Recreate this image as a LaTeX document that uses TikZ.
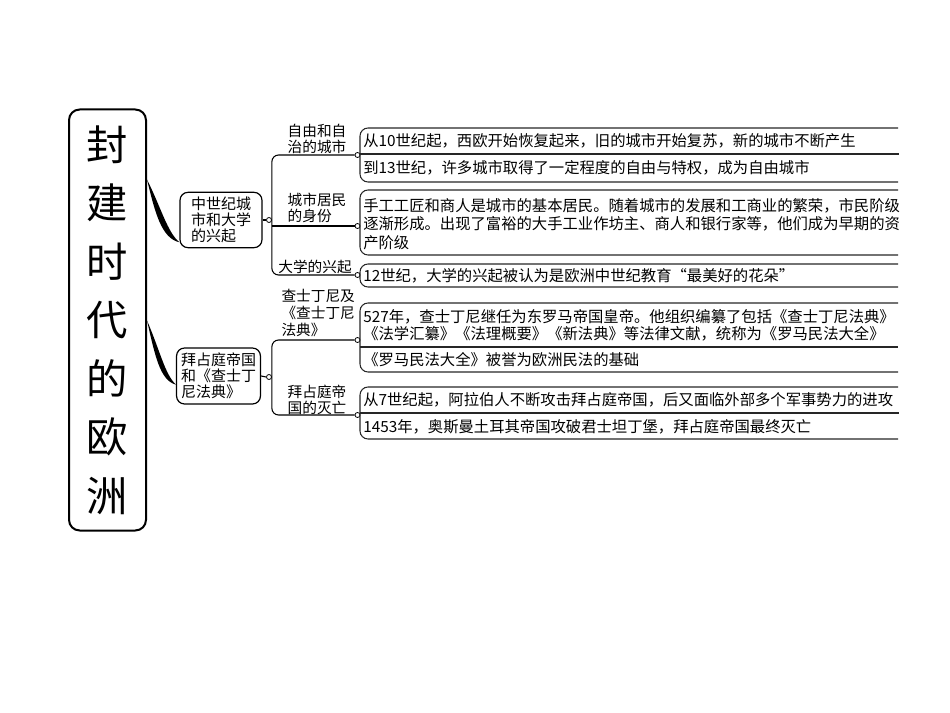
\documentclass[tikz,border=0pt]{standalone}
\usepackage{fontspec}
\setmainfont{Noto Sans CJK SC}
\usetikzlibrary{calc}

\begin{document}
\begin{tikzpicture}[x=0.75pt,y=-0.75pt,
    titlebox/.style={draw,line width=1.5pt,rounded corners=8pt,minimum width=57.75pt,minimum height=315.75pt,align=center,font=\fontsize{31}{43.9}\selectfont},
    topicbox/.style={draw,line width=0.9pt,rounded corners=6pt,align=left,font=\fontsize{11.25}{12.2}\selectfont},
    lbl/.style={align=left,inner sep=0pt,font=\fontsize{11}{12.4}\selectfont},
    cell/.style={anchor=west,align=left,inner sep=0pt,font=\fontsize{11.5}{13.9}\selectfont},
    dot/.style={draw,circle,fill=white,inner sep=0pt,minimum size=3.75pt,line width=0.6pt},
    panel/.style={draw=black!85,line width=0.8pt,rounded corners=6pt},
    branch/.style={line width=0.8pt,rounded corners=5pt}]
        \useasboundingbox (0,0) rectangle (950,713);

        % Title column
        \node[titlebox] (title) at (107.5,320) {封\\建\\时\\代\\的\\欧\\洲};

        % Two topics
        \node[topicbox,minimum width=61.5pt,minimum height=39pt] (city) at (221,220) {中世纪城\\市和大学\\的兴起};
        \node[topicbox,minimum width=62.25pt,minimum height=42pt] (byz) at (218.5,376) {拜占庭帝国\\和《查士丁\\尼法典》};

        % Brush strokes from title to topics
        \coordinate (s1) at ($(title.north east)+(0,71)$);
        \coordinate (e1) at ($(city.south west)+(0,-6)$);
        \fill (s1) .. controls +(8,33) and +(-18,-4) .. (e1) .. controls +(-12,-10) and +(14,28) .. (s1);
        \coordinate (s2) at ($(title.north east)+(0,212)$);
        \coordinate (e2) at ($(byz.south west)+(0,-20)$);
        \fill (s2) .. controls +(8,35) and +(-16,-4) .. (e2) .. controls +(-11,-10) and +(13,30) .. (s2);

        % Junction dots
        \node[dot] (o1) at (269,220) {};
        \node[dot] (o2) at (269,377) {};
        \node[dot] (d1) at (357.5,155) {};
        \node[dot] (d2) at (357.5,226) {};
        \node[dot] (d3) at (357.5,275) {};
        \node[dot] (d4) at (357.5,340) {};
        \node[dot] (d5) at (357.5,415) {};

        % Branches of the first topic
        \draw[line width=0.8pt] (city.east) -- (o1.west);
        \draw[branch] (d1.west) -| (o1.east) |- (d3.west);
        \draw[branch] (o1.east |- d2.west) -- (d2.west);
        \node[lbl] (free) at (317,139) {自由和自\\治的城市};
        \node[lbl] (burgher) at (317,208) {城市居民\\的身份};
        \node[lbl] (univ) at (315,267) {大学的兴起};

        % Branches of the second topic
        \draw[line width=0.8pt] (byz.east) -- (o2.west);
        \draw[branch] (d4.west) -| (o2.east) |- (d5.west);
        \node[lbl,text width=56.25pt] (code) at (319,313) {查士丁尼及\\《查士丁尼\\法典》};
        \node[lbl] (fall) at (317,400) {拜占庭帝\\国的灭亡};

        % Open panels on the right
        \draw[panel] (898,128) -- (360,128) -- (360,182) -- (898,182);
        \draw[panel] (360,154) -- (899,154);
        \draw[panel] (898,190) -- (360,190) -- (360,255) -- (898,255);
        \draw[panel] (898,264) -- (360,264) -- (360,287) -- (898,287);
        \draw[panel] (898,303) -- (360,303) -- (360,372) -- (898,372);
        \draw[panel] (360,347) -- (898,347);
        \draw[panel] (898,387) -- (360,387) -- (360,439) -- (898,439);
        \draw[panel] (360,413) -- (899,413);

        % Panel texts
        \node[cell] (t1a) at (363,141) {从10世纪起，西欧开始恢复起来，旧的城市开始复苏，新的城市不断产生};
        \node[cell] (t1b) at (363,168) {到13世纪，许多城市取得了一定程度的自由与特权，成为自由城市};
        \node[cell] (t2) at (363,224) {手工工匠和商人是城市的基本居民。随着城市的发展和工商业的繁荣，市民阶级\\逐渐形成。出现了富裕的大手工业作坊主、商人和银行家等，他们成为早期的资\\产阶级};
        \node[cell] (t3) at (363,276) {12世纪，大学的兴起被认为是欧洲中世纪教育“最美好的花朵”};
        \node[cell,font=\fontsize{11.5}{12.75}\selectfont] (t4a) at (363,325.5) {527年，查士丁尼继任为东罗马帝国皇帝。他组织编纂了包括《查士丁尼法典》\\《法学汇纂》《法理概要》《新法典》等法律文献，统称为《罗马民法大全》};
        \node[cell] (t4b) at (363,360) {《罗马民法大全》被誉为欧洲民法的基础};
        \node[cell] (t5a) at (363,400) {从7世纪起，阿拉伯人不断攻击拜占庭帝国，后又面临外部多个军事势力的进攻};
        \node[cell] (t5b) at (363,427) {1453年，奥斯曼土耳其帝国攻破君士坦丁堡，拜占庭帝国最终灭亡};
    \end{tikzpicture}
\end{document}
